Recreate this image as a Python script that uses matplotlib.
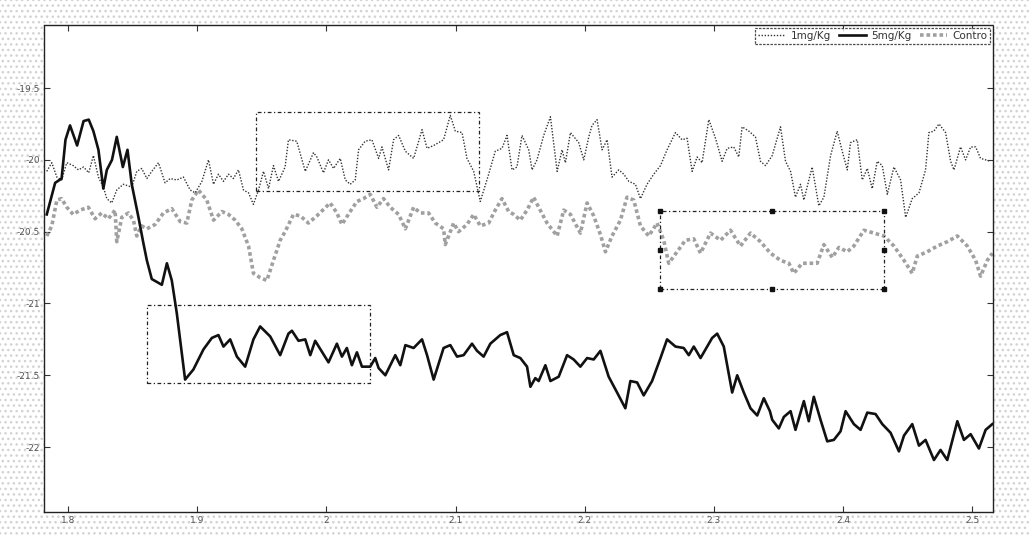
import matplotlib
matplotlib.use("Agg")
import matplotlib.pyplot as plt
from matplotlib.patches import Rectangle

# ---------------- data ----------------
x_5mg = [1.7835, 1.790, 1.795, 1.798, 1.8015, 1.807, 1.812, 1.816, 1.8196, 1.8235, 1.8273, 1.830,
         1.834, 1.8377, 1.8424, 1.846, 1.8493, 1.8545, 1.8583, 1.861, 1.8648, 1.8726, 1.8765, 1.8803,
         1.8842, 1.8906, 1.897, 1.9048, 1.9113, 1.9164, 1.9203, 1.9255, 1.9307, 1.9371, 1.9435, 1.9487,
         1.9565, 1.9642, 1.9706, 1.9733, 1.9784, 1.9836, 1.9875, 1.9913, 2.0016, 2.0081, 2.012, 2.0158,
         2.0197, 2.0236, 2.0275, 2.0339, 2.0378, 2.0404, 2.0456, 2.0533, 2.0572, 2.0611, 2.0675, 2.074,
         2.0779, 2.083, 2.0907, 2.0959, 2.1011, 2.1062, 2.1127, 2.1166, 2.1217, 2.1269, 2.1346, 2.1398,
         2.145, 2.1501, 2.1553, 2.1579, 2.1617, 2.1643, 2.1695, 2.1734, 2.1798, 2.1863, 2.1914, 2.1966,
         2.2018, 2.2069, 2.2121, 2.2185, 2.225, 2.2314, 2.2353, 2.2405, 2.2456, 2.2521, 2.2586, 2.2637,
         2.2702, 2.2766, 2.2805, 2.2844, 2.2896, 2.2947, 2.2986, 2.3025, 2.3076, 2.3141, 2.318, 2.3231,
         2.3283, 2.3335, 2.3386, 2.3433, 2.3451, 2.3502, 2.3541, 2.3593, 2.3631, 2.3696, 2.3734, 2.3773,
         2.3825, 2.3877, 2.3928, 2.398, 2.4019, 2.4083, 2.4135, 2.4187, 2.4251, 2.4303, 2.4367, 2.4432,
         2.4471, 2.4535, 2.4587, 2.4638, 2.4703, 2.4754, 2.4806, 2.4884, 2.4935, 2.4987, 2.5051, 2.5103,
         2.5155]
y_5mg = [-20.38, -20.16, -20.13, -19.86, -19.76, -19.90, -19.73, -19.72, -19.80, -19.93, -20.20, -20.07,
         -20.00, -19.84, -20.05, -19.93, -20.17, -20.40, -20.58, -20.70, -20.83, -20.87, -20.72, -20.84,
         -21.07, -21.53, -21.46, -21.32, -21.24, -21.22, -21.30, -21.25, -21.37, -21.44, -21.25, -21.16,
         -21.23, -21.36, -21.21, -21.19, -21.26, -21.25, -21.36, -21.26, -21.41, -21.28, -21.37, -21.31,
         -21.43, -21.34, -21.44, -21.44, -21.38, -21.45, -21.50, -21.36, -21.43, -21.29, -21.31, -21.25,
         -21.36, -21.53, -21.31, -21.29, -21.37, -21.36, -21.28, -21.33, -21.37, -21.28, -21.22, -21.20,
         -21.36, -21.38, -21.44, -21.58, -21.52, -21.54, -21.43, -21.54, -21.51, -21.36, -21.39, -21.44,
         -21.38, -21.39, -21.33, -21.51, -21.62, -21.73, -21.54, -21.55, -21.64, -21.54, -21.38, -21.25,
         -21.30, -21.31, -21.36, -21.30, -21.38, -21.30, -21.24, -21.21, -21.30, -21.62, -21.50, -21.62,
         -21.73, -21.78, -21.66, -21.75, -21.81, -21.87, -21.79, -21.75, -21.88, -21.68, -21.82, -21.65,
         -21.81, -21.96, -21.95, -21.89, -21.75, -21.84, -21.88, -21.76, -21.77, -21.84, -21.90, -22.03,
         -21.92, -21.84, -21.99, -21.95, -22.09, -22.02, -22.09, -21.82, -21.95, -21.91, -22.01, -21.88,
         -21.84]

x_1mg = [1.7835, 1.7874, 1.7913, 1.795, 1.799, 1.804, 1.808, 1.812, 1.816, 1.8196, 1.8235, 1.8273,
         1.830, 1.8338, 1.8377, 1.8428, 1.8493, 1.8532, 1.857, 1.861, 1.8648, 1.870, 1.8751, 1.879,
         1.8842, 1.8893, 1.8945, 1.8984, 1.9036, 1.9087, 1.9126, 1.9164, 1.9203, 1.9242, 1.928, 1.9319,
         1.9358, 1.9397, 1.9435, 1.9474, 1.9513, 1.9552, 1.959, 1.9629, 1.968, 1.9706, 1.977, 1.9836,
         1.990, 1.9926, 1.9977, 2.0016, 2.0055, 2.0107, 2.0146, 2.0184, 2.0223, 2.0249, 2.030, 2.0352,
         2.0404, 2.043, 2.0481, 2.052, 2.0559, 2.0611, 2.0675, 2.074, 2.0779, 2.083, 2.0907, 2.0959,
         2.0998, 2.105, 2.1088, 2.114, 2.1191, 2.1256, 2.1307, 2.1359, 2.1398, 2.1437, 2.1475, 2.1514,
         2.1566, 2.1592, 2.163, 2.1682, 2.1734, 2.1786, 2.1824, 2.185, 2.1889, 2.1953, 2.1992, 2.2031,
         2.2056, 2.2095, 2.2134, 2.2173, 2.2211, 2.2263, 2.2302, 2.2341, 2.2392, 2.2431, 2.2482, 2.2534,
         2.2586, 2.2637, 2.2702, 2.2753, 2.2792, 2.2831, 2.287, 2.2908, 2.296, 2.3012, 2.3063, 2.3102,
         2.3153, 2.3192, 2.3218, 2.327, 2.3321, 2.336, 2.3399, 2.3451, 2.3515, 2.3554, 2.3593, 2.3631,
         2.367, 2.3696, 2.376, 2.3812, 2.3851, 2.3903, 2.3954, 2.3993, 2.4032, 2.4057, 2.4109, 2.4148,
         2.4187, 2.4225, 2.4264, 2.4303, 2.4342, 2.4393, 2.4445, 2.4484, 2.4535, 2.4587, 2.4638, 2.4664,
         2.4703, 2.4742, 2.4793, 2.4832, 2.4858, 2.4909, 2.4948, 2.4987, 2.5026, 2.5064, 2.5142]
y_1mg = [-20.08, -20.02, -20.12, -20.14, -20.02, -20.04, -20.07, -20.05, -20.09, -19.97, -20.12, -20.19,
         -20.27, -20.30, -20.21, -20.17, -20.19, -20.08, -20.06, -20.13, -20.08, -20.02, -20.16, -20.13,
         -20.14, -20.12, -20.21, -20.23, -20.15, -20.00, -20.17, -20.10, -20.15, -20.10, -20.13, -20.07,
         -20.21, -20.23, -20.31, -20.21, -20.08, -20.20, -20.04, -20.15, -20.05, -19.86, -19.87, -20.08,
         -19.95, -19.98, -20.09, -20.00, -20.06, -19.99, -20.14, -20.17, -20.14, -19.93, -19.87, -19.86,
         -19.99, -19.91, -20.07, -19.86, -19.83, -19.94, -19.99, -19.79, -19.92, -19.90, -19.86, -19.69,
         -19.80, -19.81, -19.99, -20.08, -20.29, -20.10, -19.94, -19.92, -19.83, -20.07, -20.05, -19.83,
         -19.93, -20.07, -20.00, -19.83, -19.70, -20.08, -19.93, -20.02, -19.81, -19.88, -20.00, -19.84,
         -19.76, -19.72, -19.93, -19.86, -20.12, -20.07, -20.10, -20.15, -20.17, -20.27, -20.17, -20.10,
         -20.04, -19.93, -19.81, -19.86, -19.85, -20.08, -19.98, -20.02, -19.72, -19.85, -20.01, -19.92,
         -19.91, -19.98, -19.77, -19.80, -19.84, -20.01, -20.04, -19.97, -19.77, -20.01, -20.08, -20.26,
         -20.17, -20.28, -20.05, -20.32, -20.26, -19.97, -19.80, -19.94, -20.07, -19.88, -19.86, -20.14,
         -20.06, -20.20, -20.01, -20.04, -20.24, -20.05, -20.14, -20.40, -20.27, -20.23, -20.07, -19.81,
         -19.80, -19.75, -19.81, -20.01, -20.07, -19.91, -20.00, -19.91, -19.91, -19.99, -20.01]

x_ctrl = [1.7835, 1.7874, 1.7913, 1.795, 1.799, 1.804, 1.8093, 1.8157, 1.8209, 1.826, 1.8312, 1.8364,
          1.8377, 1.8416, 1.8467, 1.8506, 1.8532, 1.857, 1.861, 1.8674, 1.8738, 1.8803, 1.8868, 1.8919,
          1.8958, 1.9009, 1.9074, 1.9126, 1.9191, 1.9242, 1.9294, 1.9345, 1.9397, 1.9435, 1.9487, 1.9539,
          1.959, 1.9642, 1.968, 1.9745, 1.9797, 1.9861, 1.9926, 2.0029, 2.0081, 2.012, 2.0184, 2.0236,
          2.0287, 2.0339, 2.0391, 2.0442, 2.0494, 2.0559, 2.0611, 2.0675, 2.0727, 2.0791, 2.0843, 2.0907,
          2.092, 2.0985, 2.1023, 2.1088, 2.114, 2.1191, 2.1256, 2.1307, 2.1359, 2.1411, 2.145, 2.1501,
          2.1553, 2.1604, 2.1643, 2.1708, 2.1786, 2.1837, 2.1889, 2.1966, 2.2018, 2.2069, 2.2121, 2.216,
          2.2211, 2.2276, 2.2327, 2.2379, 2.2431, 2.2495, 2.256, 2.2611, 2.265, 2.2715, 2.2779, 2.2844,
          2.2896, 2.2973, 2.3051, 2.3128, 2.3205, 2.3283, 2.336, 2.3438, 2.3515, 2.358, 2.3618, 2.3683,
          2.3747, 2.3799, 2.3851, 2.3916, 2.3967, 2.4032, 2.4083, 2.4161, 2.4238, 2.4316, 2.4393, 2.4471,
          2.4535, 2.4574, 2.4651, 2.4729, 2.4806, 2.4884, 2.4961, 2.5026, 2.5064, 2.5116, 2.5155]
y_ctrl = [-20.53, -20.46, -20.28, -20.27, -20.33, -20.38, -20.35, -20.33, -20.41, -20.37, -20.41, -20.35,
          -20.57, -20.40, -20.37, -20.42, -20.53, -20.46, -20.48, -20.45, -20.37, -20.34, -20.43, -20.44,
          -20.28, -20.21, -20.28, -20.42, -20.36, -20.38, -20.42, -20.48, -20.60, -20.79, -20.82, -20.84,
          -20.70, -20.56, -20.50, -20.38, -20.39, -20.44, -20.39, -20.30, -20.37, -20.45, -20.36, -20.29,
          -20.27, -20.24, -20.33, -20.27, -20.33, -20.38, -20.48, -20.33, -20.37, -20.37, -20.44, -20.48,
          -20.59, -20.44, -20.50, -20.45, -20.38, -20.46, -20.44, -20.35, -20.27, -20.36, -20.38, -20.42,
          -20.35, -20.26, -20.33, -20.44, -20.53, -20.35, -20.38, -20.51, -20.30, -20.39, -20.52, -20.64,
          -20.53, -20.42, -20.26, -20.28, -20.46, -20.53, -20.44, -20.56, -20.72, -20.64, -20.56, -20.55,
          -20.65, -20.51, -20.56, -20.49, -20.60, -20.51, -20.57, -20.65, -20.70, -20.72, -20.79, -20.72,
          -20.72, -20.72, -20.59, -20.68, -20.61, -20.64, -20.60, -20.49, -20.51, -20.53, -20.60, -20.70,
          -20.79, -20.67, -20.64, -20.60, -20.57, -20.53, -20.60, -20.70, -20.81, -20.70, -20.65]

# highlighted regions: (x0, x1, y0, y1)
box_1mg = (1.9456, 2.1184, -20.216, -19.667)
box_5mg = (1.861, 2.0339, -21.553, -21.014)
box_ctrl = (2.258, 2.432, -20.90, -20.353)

x_ticks = [1.8, 1.9, 2.0, 2.1, 2.2, 2.3, 2.4, 2.5]
x_tick_labels = ["1.8", "1.9", "2", "2.1", "2.2", "2.3", "2.4", "2.5"]
y_ticks = [-19.5, -20.0, -20.5, -21.0, -21.5, -22.0]
y_tick_labels = ["-19.5", "-20", "-20.5", "-21", "-21.5", "-22"]
labels = ["1mg/Kg", "5mg/Kg", "Contro"]

# ---------------- figure ----------------
fig = plt.figure(figsize=(10.29, 5.35), dpi=100)
fig.patch.set_facecolor("white")
bg = Rectangle((0, 0), 1, 1, transform=fig.transFigure, facecolor="white",
               edgecolor="#d2d2d2", hatch="...", linewidth=0, zorder=-10)
fig.patches.append(bg)

ax = fig.add_axes([0.0428, 0.043, 0.9222, 0.910])
ax.set_facecolor("white")

ax.plot(x_1mg, y_1mg, color="#333333", lw=1.0, linestyle=(0, (1, 1.2)), label=labels[0], zorder=3)
ax.plot(x_5mg, y_5mg, color="#111111", lw=1.9, linestyle="-", label=labels[1], zorder=4)
ax.plot(x_ctrl, y_ctrl, color="#a0a0a0", lw=2.6, linestyle=(0, (1, 0.8)), label=labels[2], zorder=2)

box_style = dict(fill=False, edgecolor="#222222", lw=0.9, linestyle=(0, (3, 2, 1, 2)), zorder=5)
for (bx0, bx1, by0, by1) in (box_1mg, box_5mg):
    ax.add_patch(Rectangle((bx0, by0), bx1 - bx0, by1 - by0, **box_style))
bx0, bx1, by0, by1 = box_ctrl
ax.add_patch(Rectangle((bx0, by0), bx1 - bx0, by1 - by0, **box_style))
hx = [bx0, (bx0 + bx1) / 2, bx1, bx0, bx1, bx0, (bx0 + bx1) / 2, bx1]
hy = [by1, by1, by1, (by0 + by1) / 2, (by0 + by1) / 2, by0, by0, by0]
ax.plot(hx, hy, linestyle="none", marker="s", ms=3, color="#111111", zorder=6)

ax.set_xlim(1.7814, 2.516)
ax.set_ylim(-22.452, -19.062)
ax.set_xticks(x_ticks)
ax.set_xticklabels(x_tick_labels)
ax.set_yticks(y_ticks)
ax.set_yticklabels(y_tick_labels)
ax.tick_params(axis="both", which="both", direction="in", length=4, width=0.8,
               top=True, right=True, labelsize=6.5, labelcolor="#555555", color="#333333", pad=3)

for sp in ax.spines.values():
    sp.set_linestyle((0, (2, 1)))
    sp.set_linewidth(1.0)
    sp.set_color("#222222")

leg = ax.legend(loc="upper right", ncol=3, fontsize=7.5, frameon=True, fancybox=False,
                borderpad=0.3, handlelength=2.6, handletextpad=0.5, columnspacing=0.8,
                borderaxespad=0.25)
leg.get_frame().set_edgecolor("#222222")
leg.get_frame().set_linestyle((0, (2, 1)))
leg.get_frame().set_linewidth(0.9)
for t in leg.get_texts():
    t.set_color("#333333")

fig.savefig("out.png", dpi=100, facecolor=fig.get_facecolor())
